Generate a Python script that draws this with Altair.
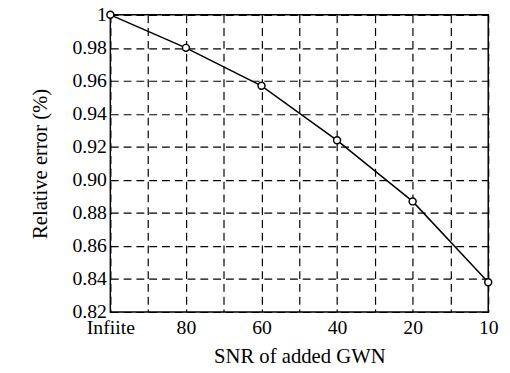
import altair as alt
import pandas as pd

categories = ["Infiite", "80", "60", "40", "20", "10"]
values = [1.0, 0.980, 0.957, 0.924, 0.887, 0.838]
y_ticks = [0.82, 0.84, 0.86, 0.88, 0.90, 0.92, 0.94, 0.96, 0.98, 1.0]

df = pd.DataFrame({"idx": list(range(len(categories))), "cat": categories, "val": values})

x_grid_values = [i * 0.5 for i in range(2 * (len(categories) - 1) + 1)]
label_map = "{" + ",".join(f"'{i}':'{c}'" for i, c in enumerate(categories)) + "}"

font = "Liberation Serif"

common = dict(
    grid=True,
    gridColor="black",
    gridDash=[8, 5],
    gridWidth=1.2,
    gridOpacity=1,
    labelFont=font,
    labelFontSize=20,
    labelColor="black",
    titleFont=font,
    titleFontSize=21,
    titleFontWeight="normal",
    titleColor="black",
    ticks=False,
    domain=False,
    labelOverlap=False,
    labelFlush=False,
)

x_enc = alt.X(
    "idx:Q",
    scale=alt.Scale(domain=[0, len(categories) - 1], nice=False, zero=False),
    axis=alt.Axis(
        values=x_grid_values,
        labelExpr=f"datum.value % 1 == 0 ? {label_map}[''+datum.value] : ''",
        title="SNR of added GWN",
        labelPadding=6,
        titlePadding=8,
        **common,
    ),
)
y_enc = alt.Y(
    "val:Q",
    scale=alt.Scale(domain=[0.82, 1.0], nice=False, zero=False),
    axis=alt.Axis(
        values=y_ticks,
        labelExpr="datum.value == 1 ? '1' : format(datum.value, '.2f')",
        title="Relative error (%)",
        labelPadding=4,
        titlePadding=22,
        **common,
    ),
)

base = alt.Chart(df).encode(x=x_enc, y=y_enc)
line = base.mark_line(color="black", strokeWidth=1.5)
pts = base.mark_point(shape="circle", filled=True, fill="white", stroke="black", strokeWidth=1.5, size=50, opacity=1)

chart = (
    alt.layer(line, pts)
    .properties(
        width=384,
        height=302,
        autosize=alt.AutoSizeParams(type="none"),
        padding={"left": 104, "top": 4, "right": 14, "bottom": 58},
    )
    .configure(font=font)
    .configure_view(stroke="black", strokeWidth=1.5)
)

chart.save("out.html", embed_options={"renderer": "svg", "actions": False})
